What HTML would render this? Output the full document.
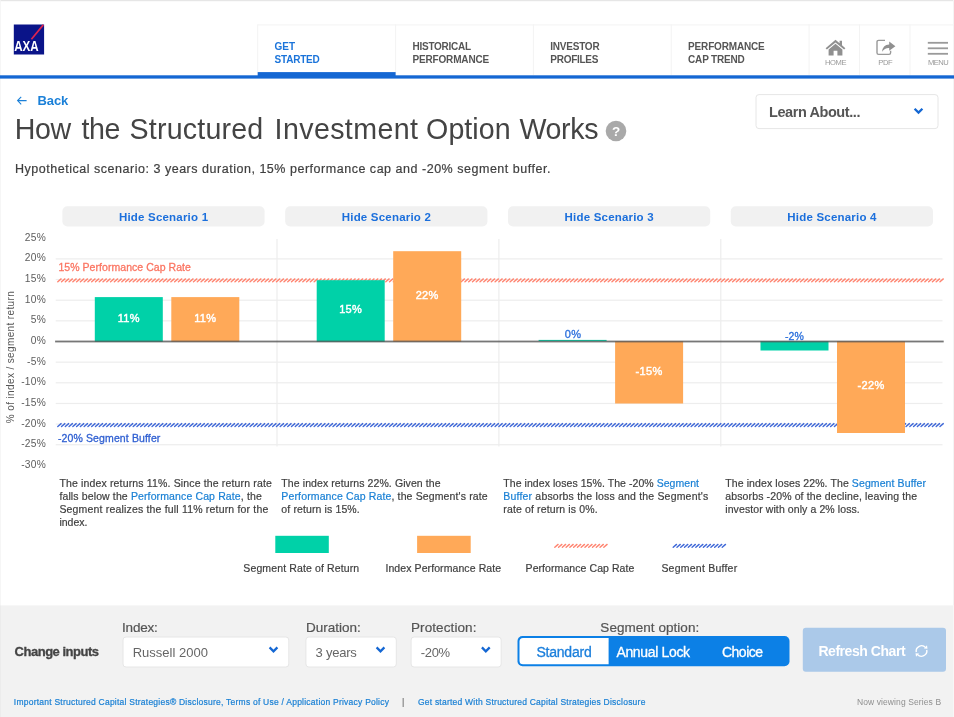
<!DOCTYPE html>
<html lang="en"><head><meta charset="utf-8"><title>How the Structured Investment Option Works</title>
<style>
html,body{margin:0;padding:0}
body{width:954px;height:717px;position:relative;overflow:hidden;background:#fff;font-family:"Liberation Sans", sans-serif;color:#444}
.t{position:absolute;display:block;white-space:nowrap;margin:0;padding:0;border:0;background:none;font-family:inherit;font-weight:400;text-decoration:none;text-align:left;cursor:default}
a.t,button.t{cursor:pointer}
h1{margin:0;font-size:inherit;font-weight:400}
.t a{color:#1a80d5;text-decoration:none}
svg{position:absolute;overflow:visible}

</style></head>
<body>
<svg width="954" height="717" viewBox="0 0 954 717" style="left:0;top:0">
<rect x="0" y="0" width="954" height="1.2" fill="#e6e6e6"/>
<rect x="953" y="0" width="1" height="605.4" fill="#f4f4f4"/>
<rect x="0" y="0" width="0.8" height="605.4" fill="#f4f4f4"/>
<rect x="13.8" y="24.5" width="30.3" height="30" fill="#0a1489"/>
<line x1="31.4" y1="39.2" x2="43.3" y2="24.9" stroke="#dc2450" stroke-width="1.7"/>
<text x="14.2" y="51" font-family="Liberation Sans, sans-serif" font-weight="700" font-size="14.5" textLength="24.4" lengthAdjust="spacingAndGlyphs" fill="#fff">AXA</text>
<rect x="257.7" y="24.4" width="696.3" height="1" fill="#f3f3f3"/>
<rect x="257.2" y="24.4" width="1" height="50.6" fill="#f3f3f3"/>
<rect x="395.1" y="24.4" width="1" height="50.6" fill="#f3f3f3"/>
<rect x="532.9" y="24.4" width="1" height="50.6" fill="#f3f3f3"/>
<rect x="670.7" y="24.4" width="1" height="50.6" fill="#f3f3f3"/>
<rect x="808.6" y="24.4" width="1" height="50.6" fill="#f3f3f3"/>
<rect x="859.0" y="24.4" width="1" height="50.6" fill="#f3f3f3"/>
<rect x="909.5" y="24.4" width="1" height="50.6" fill="#f3f3f3"/>
<rect x="257.7" y="72.1" width="137.9" height="4" fill="#1467d3"/>
<rect x="0" y="75.3" width="954" height="3.3" fill="#1467d3"/>
<g transform="translate(825,39.2)" fill="#909090"><path d="M10.5 0.6 L0.6 9 L1.9 10.4 L10.5 3.2 L19.1 10.4 L20.4 9 L17 6.1 V1.6 H14.6 V4.1 Z"/><path d="M10.5 4.6 L3.6 10.4 V16.4 H8.6 V11.6 H12.4 V16.4 H17.4 V10.4 Z"/></g>
<g transform="translate(876,39.2)"><path d="M9 1.2 H2.6 Q1 1.2 1 2.8 V13.6 Q1 15.2 2.6 15.2 H13 Q14.6 15.2 14.6 13.6 V11.5" fill="none" stroke="#999" stroke-width="1.4"/><path d="M13.2 2.4 L19.4 7 L13.2 11.6 V8.8 Q8.6 8.6 6 12.6 Q6.6 5.6 13.2 5.2 Z" fill="#909090"/></g>
<rect x="927.8" y="41.9" width="20.2" height="1.8" fill="#9a9a9a"/>
<rect x="927.8" y="47.4" width="20.2" height="1.8" fill="#9a9a9a"/>
<rect x="927.8" y="52.9" width="20.2" height="1.8" fill="#9a9a9a"/>
<path d="M21.2 96.9 L17.6 100.6 L21.2 104.3 M17.6 100.6 H26.6" fill="none" stroke="#1b80d8" stroke-width="1.1"/>
<circle cx="616" cy="131" r="10.3" fill="#a9a9a9"/><text x="616" y="135.9" text-anchor="middle" font-family="Liberation Sans, sans-serif" font-weight="700" font-size="13.5" fill="#fff">?</text>
<rect x="756" y="94.6" width="182" height="34" fill="#fff" rx="3" stroke="#e6e6e6" stroke-width="1"/>
<path d="M914.6 108.7 l3.9 3.9 l3.9 -3.9" fill="none" stroke="#1467d3" stroke-width="2.3"/>
<rect x="62.4" y="206.3" width="202.2" height="20.2" fill="#f1f1f1" rx="5"/>
<rect x="285.2" y="206.3" width="202.2" height="20.2" fill="#f1f1f1" rx="5"/>
<rect x="508.0" y="206.3" width="202.2" height="20.2" fill="#f1f1f1" rx="5"/>
<rect x="730.8" y="206.3" width="202.2" height="20.2" fill="#f1f1f1" rx="5"/>
<rect x="55.7" y="258.3" width="886.8" height="1.2" fill="#ededed"/>
<rect x="55.7" y="278.95" width="886.8" height="1.2" fill="#ededed"/>
<rect x="55.7" y="299.6" width="886.8" height="1.2" fill="#ededed"/>
<rect x="55.7" y="320.25" width="886.8" height="1.2" fill="#ededed"/>
<rect x="55.7" y="361.55" width="886.8" height="1.2" fill="#ededed"/>
<rect x="55.7" y="382.2" width="886.8" height="1.2" fill="#ededed"/>
<rect x="55.7" y="402.85" width="886.8" height="1.2" fill="#ededed"/>
<rect x="55.7" y="423.5" width="886.8" height="1.2" fill="#ededed"/>
<rect x="55.7" y="444.15" width="886.8" height="1.2" fill="#ededed"/>
<rect x="276.4" y="239" width="1.2" height="207.5" fill="#ededed"/>
<rect x="498.3" y="239" width="1.2" height="207.5" fill="#ededed"/>
<rect x="720.2" y="239" width="1.2" height="207.5" fill="#ededed"/>
<path d="M57.8 281.8l3.3 -2.9M61.57 281.8l3.3 -2.9M65.34 281.8l3.3 -2.9M69.11 281.8l3.3 -2.9M72.88 281.8l3.3 -2.9M76.65 281.8l3.3 -2.9M80.42 281.8l3.3 -2.9M84.19 281.8l3.3 -2.9M87.96 281.8l3.3 -2.9M91.73 281.8l3.3 -2.9M95.5 281.8l3.3 -2.9M99.27 281.8l3.3 -2.9M103.04 281.8l3.3 -2.9M106.81 281.8l3.3 -2.9M110.58 281.8l3.3 -2.9M114.35 281.8l3.3 -2.9M118.12 281.8l3.3 -2.9M121.89 281.8l3.3 -2.9M125.66 281.8l3.3 -2.9M129.43 281.8l3.3 -2.9M133.2 281.8l3.3 -2.9M136.97 281.8l3.3 -2.9M140.74 281.8l3.3 -2.9M144.51 281.8l3.3 -2.9M148.28 281.8l3.3 -2.9M152.05 281.8l3.3 -2.9M155.82 281.8l3.3 -2.9M159.59 281.8l3.3 -2.9M163.36 281.8l3.3 -2.9M167.13 281.8l3.3 -2.9M170.9 281.8l3.3 -2.9M174.67 281.8l3.3 -2.9M178.44 281.8l3.3 -2.9M182.21 281.8l3.3 -2.9M185.98 281.8l3.3 -2.9M189.75 281.8l3.3 -2.9M193.52 281.8l3.3 -2.9M197.29 281.8l3.3 -2.9M201.06 281.8l3.3 -2.9M204.83 281.8l3.3 -2.9M208.6 281.8l3.3 -2.9M212.37 281.8l3.3 -2.9M216.14 281.8l3.3 -2.9M219.91 281.8l3.3 -2.9M223.68 281.8l3.3 -2.9M227.45 281.8l3.3 -2.9M231.22 281.8l3.3 -2.9M234.99 281.8l3.3 -2.9M238.76 281.8l3.3 -2.9M242.53 281.8l3.3 -2.9M246.3 281.8l3.3 -2.9M250.07 281.8l3.3 -2.9M253.84 281.8l3.3 -2.9M257.61 281.8l3.3 -2.9M261.38 281.8l3.3 -2.9M265.15 281.8l3.3 -2.9M268.92 281.8l3.3 -2.9M272.69 281.8l3.3 -2.9M276.46 281.8l3.3 -2.9M280.23 281.8l3.3 -2.9M284.0 281.8l3.3 -2.9M287.77 281.8l3.3 -2.9M291.54 281.8l3.3 -2.9M295.31 281.8l3.3 -2.9M299.08 281.8l3.3 -2.9M302.85 281.8l3.3 -2.9M306.62 281.8l3.3 -2.9M310.39 281.8l3.3 -2.9M314.16 281.8l3.3 -2.9M317.93 281.8l3.3 -2.9M321.7 281.8l3.3 -2.9M325.47 281.8l3.3 -2.9M329.24 281.8l3.3 -2.9M333.01 281.8l3.3 -2.9M336.78 281.8l3.3 -2.9M340.55 281.8l3.3 -2.9M344.32 281.8l3.3 -2.9M348.09 281.8l3.3 -2.9M351.86 281.8l3.3 -2.9M355.63 281.8l3.3 -2.9M359.4 281.8l3.3 -2.9M363.17 281.8l3.3 -2.9M366.94 281.8l3.3 -2.9M370.71 281.8l3.3 -2.9M374.48 281.8l3.3 -2.9M378.25 281.8l3.3 -2.9M382.02 281.8l3.3 -2.9M385.79 281.8l3.3 -2.9M389.56 281.8l3.3 -2.9M393.33 281.8l3.3 -2.9M397.1 281.8l3.3 -2.9M400.87 281.8l3.3 -2.9M404.64 281.8l3.3 -2.9M408.41 281.8l3.3 -2.9M412.18 281.8l3.3 -2.9M415.95 281.8l3.3 -2.9M419.72 281.8l3.3 -2.9M423.49 281.8l3.3 -2.9M427.26 281.8l3.3 -2.9M431.03 281.8l3.3 -2.9M434.8 281.8l3.3 -2.9M438.57 281.8l3.3 -2.9M442.34 281.8l3.3 -2.9M446.11 281.8l3.3 -2.9M449.88 281.8l3.3 -2.9M453.65 281.8l3.3 -2.9M457.42 281.8l3.3 -2.9M461.19 281.8l3.3 -2.9M464.96 281.8l3.3 -2.9M468.73 281.8l3.3 -2.9M472.5 281.8l3.3 -2.9M476.27 281.8l3.3 -2.9M480.04 281.8l3.3 -2.9M483.81 281.8l3.3 -2.9M487.58 281.8l3.3 -2.9M491.35 281.8l3.3 -2.9M495.12 281.8l3.3 -2.9M498.89 281.8l3.3 -2.9M502.66 281.8l3.3 -2.9M506.43 281.8l3.3 -2.9M510.2 281.8l3.3 -2.9M513.97 281.8l3.3 -2.9M517.74 281.8l3.3 -2.9M521.51 281.8l3.3 -2.9M525.28 281.8l3.3 -2.9M529.05 281.8l3.3 -2.9M532.82 281.8l3.3 -2.9M536.59 281.8l3.3 -2.9M540.36 281.8l3.3 -2.9M544.13 281.8l3.3 -2.9M547.9 281.8l3.3 -2.9M551.67 281.8l3.3 -2.9M555.44 281.8l3.3 -2.9M559.21 281.8l3.3 -2.9M562.98 281.8l3.3 -2.9M566.75 281.8l3.3 -2.9M570.52 281.8l3.3 -2.9M574.29 281.8l3.3 -2.9M578.06 281.8l3.3 -2.9M581.83 281.8l3.3 -2.9M585.6 281.8l3.3 -2.9M589.37 281.8l3.3 -2.9M593.14 281.8l3.3 -2.9M596.91 281.8l3.3 -2.9M600.68 281.8l3.3 -2.9M604.45 281.8l3.3 -2.9M608.22 281.8l3.3 -2.9M611.99 281.8l3.3 -2.9M615.76 281.8l3.3 -2.9M619.53 281.8l3.3 -2.9M623.3 281.8l3.3 -2.9M627.07 281.8l3.3 -2.9M630.84 281.8l3.3 -2.9M634.61 281.8l3.3 -2.9M638.38 281.8l3.3 -2.9M642.15 281.8l3.3 -2.9M645.92 281.8l3.3 -2.9M649.69 281.8l3.3 -2.9M653.46 281.8l3.3 -2.9M657.23 281.8l3.3 -2.9M661.0 281.8l3.3 -2.9M664.77 281.8l3.3 -2.9M668.54 281.8l3.3 -2.9M672.31 281.8l3.3 -2.9M676.08 281.8l3.3 -2.9M679.85 281.8l3.3 -2.9M683.62 281.8l3.3 -2.9M687.39 281.8l3.3 -2.9M691.16 281.8l3.3 -2.9M694.93 281.8l3.3 -2.9M698.7 281.8l3.3 -2.9M702.47 281.8l3.3 -2.9M706.24 281.8l3.3 -2.9M710.01 281.8l3.3 -2.9M713.78 281.8l3.3 -2.9M717.55 281.8l3.3 -2.9M721.32 281.8l3.3 -2.9M725.09 281.8l3.3 -2.9M728.86 281.8l3.3 -2.9M732.63 281.8l3.3 -2.9M736.4 281.8l3.3 -2.9M740.17 281.8l3.3 -2.9M743.94 281.8l3.3 -2.9M747.71 281.8l3.3 -2.9M751.48 281.8l3.3 -2.9M755.25 281.8l3.3 -2.9M759.02 281.8l3.3 -2.9M762.79 281.8l3.3 -2.9M766.56 281.8l3.3 -2.9M770.33 281.8l3.3 -2.9M774.1 281.8l3.3 -2.9M777.87 281.8l3.3 -2.9M781.64 281.8l3.3 -2.9M785.41 281.8l3.3 -2.9M789.18 281.8l3.3 -2.9M792.95 281.8l3.3 -2.9M796.72 281.8l3.3 -2.9M800.49 281.8l3.3 -2.9M804.26 281.8l3.3 -2.9M808.03 281.8l3.3 -2.9M811.8 281.8l3.3 -2.9M815.57 281.8l3.3 -2.9M819.34 281.8l3.3 -2.9M823.11 281.8l3.3 -2.9M826.88 281.8l3.3 -2.9M830.65 281.8l3.3 -2.9M834.42 281.8l3.3 -2.9M838.19 281.8l3.3 -2.9M841.96 281.8l3.3 -2.9M845.73 281.8l3.3 -2.9M849.5 281.8l3.3 -2.9M853.27 281.8l3.3 -2.9M857.04 281.8l3.3 -2.9M860.81 281.8l3.3 -2.9M864.58 281.8l3.3 -2.9M868.35 281.8l3.3 -2.9M872.12 281.8l3.3 -2.9M875.89 281.8l3.3 -2.9M879.66 281.8l3.3 -2.9M883.43 281.8l3.3 -2.9M887.2 281.8l3.3 -2.9M890.97 281.8l3.3 -2.9M894.74 281.8l3.3 -2.9M898.51 281.8l3.3 -2.9M902.28 281.8l3.3 -2.9M906.05 281.8l3.3 -2.9M909.82 281.8l3.3 -2.9M913.59 281.8l3.3 -2.9M917.36 281.8l3.3 -2.9M921.13 281.8l3.3 -2.9M924.9 281.8l3.3 -2.9M928.67 281.8l3.3 -2.9M932.44 281.8l3.3 -2.9M936.21 281.8l3.3 -2.9M939.98 281.8l3.3 -2.9" fill="none" stroke="#ff8571" stroke-width="1.4" stroke-linecap="round"/>
<path d="M57.8 426.5l3.3 -2.9M61.57 426.5l3.3 -2.9M65.34 426.5l3.3 -2.9M69.11 426.5l3.3 -2.9M72.88 426.5l3.3 -2.9M76.65 426.5l3.3 -2.9M80.42 426.5l3.3 -2.9M84.19 426.5l3.3 -2.9M87.96 426.5l3.3 -2.9M91.73 426.5l3.3 -2.9M95.5 426.5l3.3 -2.9M99.27 426.5l3.3 -2.9M103.04 426.5l3.3 -2.9M106.81 426.5l3.3 -2.9M110.58 426.5l3.3 -2.9M114.35 426.5l3.3 -2.9M118.12 426.5l3.3 -2.9M121.89 426.5l3.3 -2.9M125.66 426.5l3.3 -2.9M129.43 426.5l3.3 -2.9M133.2 426.5l3.3 -2.9M136.97 426.5l3.3 -2.9M140.74 426.5l3.3 -2.9M144.51 426.5l3.3 -2.9M148.28 426.5l3.3 -2.9M152.05 426.5l3.3 -2.9M155.82 426.5l3.3 -2.9M159.59 426.5l3.3 -2.9M163.36 426.5l3.3 -2.9M167.13 426.5l3.3 -2.9M170.9 426.5l3.3 -2.9M174.67 426.5l3.3 -2.9M178.44 426.5l3.3 -2.9M182.21 426.5l3.3 -2.9M185.98 426.5l3.3 -2.9M189.75 426.5l3.3 -2.9M193.52 426.5l3.3 -2.9M197.29 426.5l3.3 -2.9M201.06 426.5l3.3 -2.9M204.83 426.5l3.3 -2.9M208.6 426.5l3.3 -2.9M212.37 426.5l3.3 -2.9M216.14 426.5l3.3 -2.9M219.91 426.5l3.3 -2.9M223.68 426.5l3.3 -2.9M227.45 426.5l3.3 -2.9M231.22 426.5l3.3 -2.9M234.99 426.5l3.3 -2.9M238.76 426.5l3.3 -2.9M242.53 426.5l3.3 -2.9M246.3 426.5l3.3 -2.9M250.07 426.5l3.3 -2.9M253.84 426.5l3.3 -2.9M257.61 426.5l3.3 -2.9M261.38 426.5l3.3 -2.9M265.15 426.5l3.3 -2.9M268.92 426.5l3.3 -2.9M272.69 426.5l3.3 -2.9M276.46 426.5l3.3 -2.9M280.23 426.5l3.3 -2.9M284.0 426.5l3.3 -2.9M287.77 426.5l3.3 -2.9M291.54 426.5l3.3 -2.9M295.31 426.5l3.3 -2.9M299.08 426.5l3.3 -2.9M302.85 426.5l3.3 -2.9M306.62 426.5l3.3 -2.9M310.39 426.5l3.3 -2.9M314.16 426.5l3.3 -2.9M317.93 426.5l3.3 -2.9M321.7 426.5l3.3 -2.9M325.47 426.5l3.3 -2.9M329.24 426.5l3.3 -2.9M333.01 426.5l3.3 -2.9M336.78 426.5l3.3 -2.9M340.55 426.5l3.3 -2.9M344.32 426.5l3.3 -2.9M348.09 426.5l3.3 -2.9M351.86 426.5l3.3 -2.9M355.63 426.5l3.3 -2.9M359.4 426.5l3.3 -2.9M363.17 426.5l3.3 -2.9M366.94 426.5l3.3 -2.9M370.71 426.5l3.3 -2.9M374.48 426.5l3.3 -2.9M378.25 426.5l3.3 -2.9M382.02 426.5l3.3 -2.9M385.79 426.5l3.3 -2.9M389.56 426.5l3.3 -2.9M393.33 426.5l3.3 -2.9M397.1 426.5l3.3 -2.9M400.87 426.5l3.3 -2.9M404.64 426.5l3.3 -2.9M408.41 426.5l3.3 -2.9M412.18 426.5l3.3 -2.9M415.95 426.5l3.3 -2.9M419.72 426.5l3.3 -2.9M423.49 426.5l3.3 -2.9M427.26 426.5l3.3 -2.9M431.03 426.5l3.3 -2.9M434.8 426.5l3.3 -2.9M438.57 426.5l3.3 -2.9M442.34 426.5l3.3 -2.9M446.11 426.5l3.3 -2.9M449.88 426.5l3.3 -2.9M453.65 426.5l3.3 -2.9M457.42 426.5l3.3 -2.9M461.19 426.5l3.3 -2.9M464.96 426.5l3.3 -2.9M468.73 426.5l3.3 -2.9M472.5 426.5l3.3 -2.9M476.27 426.5l3.3 -2.9M480.04 426.5l3.3 -2.9M483.81 426.5l3.3 -2.9M487.58 426.5l3.3 -2.9M491.35 426.5l3.3 -2.9M495.12 426.5l3.3 -2.9M498.89 426.5l3.3 -2.9M502.66 426.5l3.3 -2.9M506.43 426.5l3.3 -2.9M510.2 426.5l3.3 -2.9M513.97 426.5l3.3 -2.9M517.74 426.5l3.3 -2.9M521.51 426.5l3.3 -2.9M525.28 426.5l3.3 -2.9M529.05 426.5l3.3 -2.9M532.82 426.5l3.3 -2.9M536.59 426.5l3.3 -2.9M540.36 426.5l3.3 -2.9M544.13 426.5l3.3 -2.9M547.9 426.5l3.3 -2.9M551.67 426.5l3.3 -2.9M555.44 426.5l3.3 -2.9M559.21 426.5l3.3 -2.9M562.98 426.5l3.3 -2.9M566.75 426.5l3.3 -2.9M570.52 426.5l3.3 -2.9M574.29 426.5l3.3 -2.9M578.06 426.5l3.3 -2.9M581.83 426.5l3.3 -2.9M585.6 426.5l3.3 -2.9M589.37 426.5l3.3 -2.9M593.14 426.5l3.3 -2.9M596.91 426.5l3.3 -2.9M600.68 426.5l3.3 -2.9M604.45 426.5l3.3 -2.9M608.22 426.5l3.3 -2.9M611.99 426.5l3.3 -2.9M615.76 426.5l3.3 -2.9M619.53 426.5l3.3 -2.9M623.3 426.5l3.3 -2.9M627.07 426.5l3.3 -2.9M630.84 426.5l3.3 -2.9M634.61 426.5l3.3 -2.9M638.38 426.5l3.3 -2.9M642.15 426.5l3.3 -2.9M645.92 426.5l3.3 -2.9M649.69 426.5l3.3 -2.9M653.46 426.5l3.3 -2.9M657.23 426.5l3.3 -2.9M661.0 426.5l3.3 -2.9M664.77 426.5l3.3 -2.9M668.54 426.5l3.3 -2.9M672.31 426.5l3.3 -2.9M676.08 426.5l3.3 -2.9M679.85 426.5l3.3 -2.9M683.62 426.5l3.3 -2.9M687.39 426.5l3.3 -2.9M691.16 426.5l3.3 -2.9M694.93 426.5l3.3 -2.9M698.7 426.5l3.3 -2.9M702.47 426.5l3.3 -2.9M706.24 426.5l3.3 -2.9M710.01 426.5l3.3 -2.9M713.78 426.5l3.3 -2.9M717.55 426.5l3.3 -2.9M721.32 426.5l3.3 -2.9M725.09 426.5l3.3 -2.9M728.86 426.5l3.3 -2.9M732.63 426.5l3.3 -2.9M736.4 426.5l3.3 -2.9M740.17 426.5l3.3 -2.9M743.94 426.5l3.3 -2.9M747.71 426.5l3.3 -2.9M751.48 426.5l3.3 -2.9M755.25 426.5l3.3 -2.9M759.02 426.5l3.3 -2.9M762.79 426.5l3.3 -2.9M766.56 426.5l3.3 -2.9M770.33 426.5l3.3 -2.9M774.1 426.5l3.3 -2.9M777.87 426.5l3.3 -2.9M781.64 426.5l3.3 -2.9M785.41 426.5l3.3 -2.9M789.18 426.5l3.3 -2.9M792.95 426.5l3.3 -2.9M796.72 426.5l3.3 -2.9M800.49 426.5l3.3 -2.9M804.26 426.5l3.3 -2.9M808.03 426.5l3.3 -2.9M811.8 426.5l3.3 -2.9M815.57 426.5l3.3 -2.9M819.34 426.5l3.3 -2.9M823.11 426.5l3.3 -2.9M826.88 426.5l3.3 -2.9M830.65 426.5l3.3 -2.9M834.42 426.5l3.3 -2.9M838.19 426.5l3.3 -2.9M841.96 426.5l3.3 -2.9M845.73 426.5l3.3 -2.9M849.5 426.5l3.3 -2.9M853.27 426.5l3.3 -2.9M857.04 426.5l3.3 -2.9M860.81 426.5l3.3 -2.9M864.58 426.5l3.3 -2.9M868.35 426.5l3.3 -2.9M872.12 426.5l3.3 -2.9M875.89 426.5l3.3 -2.9M879.66 426.5l3.3 -2.9M883.43 426.5l3.3 -2.9M887.2 426.5l3.3 -2.9M890.97 426.5l3.3 -2.9M894.74 426.5l3.3 -2.9M898.51 426.5l3.3 -2.9M902.28 426.5l3.3 -2.9M906.05 426.5l3.3 -2.9M909.82 426.5l3.3 -2.9M913.59 426.5l3.3 -2.9M917.36 426.5l3.3 -2.9M921.13 426.5l3.3 -2.9M924.9 426.5l3.3 -2.9M928.67 426.5l3.3 -2.9M932.44 426.5l3.3 -2.9M936.21 426.5l3.3 -2.9M939.98 426.5l3.3 -2.9" fill="none" stroke="#4069d8" stroke-width="1.4" stroke-linecap="round"/>
<rect x="94.8" y="297.1" width="68" height="44.8" fill="#00d1a8"/>
<rect x="171.3" y="297.1" width="68" height="44.8" fill="#ffa958"/>
<rect x="316.7" y="280.2" width="68" height="61.7" fill="#00d1a8"/>
<rect x="393.2" y="251.2" width="68" height="90.7" fill="#ffa958"/>
<rect x="538.6" y="339.9" width="68" height="1.2" fill="#00d1a8"/>
<rect x="615.1" y="341.1" width="68" height="62.4" fill="#ffa958"/>
<rect x="760.5" y="341.1" width="68" height="9.4" fill="#00d1a8"/>
<rect x="837.0" y="341.1" width="68" height="91.9" fill="#ffa958"/>
<rect x="55.1" y="340.6" width="888.6" height="1.8" fill="#555" opacity="0.8"/>
<rect x="275.3" y="535.8" width="53.5" height="17.2" fill="#00d1a8"/>
<rect x="417.1" y="535.8" width="53.6" height="17.2" fill="#ffa958"/>
<path d="M554.8 547.3l3.3 -2.9M558.57 547.3l3.3 -2.9M562.34 547.3l3.3 -2.9M566.11 547.3l3.3 -2.9M569.88 547.3l3.3 -2.9M573.65 547.3l3.3 -2.9M577.42 547.3l3.3 -2.9M581.19 547.3l3.3 -2.9M584.96 547.3l3.3 -2.9M588.73 547.3l3.3 -2.9M592.5 547.3l3.3 -2.9M596.27 547.3l3.3 -2.9M600.04 547.3l3.3 -2.9M603.81 547.3l3.3 -2.9" fill="none" stroke="#ff8571" stroke-width="1.4" stroke-linecap="round"/>
<path d="M673.2 547.3l3.3 -2.9M676.97 547.3l3.3 -2.9M680.74 547.3l3.3 -2.9M684.51 547.3l3.3 -2.9M688.28 547.3l3.3 -2.9M692.05 547.3l3.3 -2.9M695.82 547.3l3.3 -2.9M699.59 547.3l3.3 -2.9M703.36 547.3l3.3 -2.9M707.13 547.3l3.3 -2.9M710.9 547.3l3.3 -2.9M714.67 547.3l3.3 -2.9M718.44 547.3l3.3 -2.9M722.21 547.3l3.3 -2.9" fill="none" stroke="#4069d8" stroke-width="1.4" stroke-linecap="round"/>
<rect x="0" y="605.4" width="954" height="112" fill="#f2f2f2"/>
<rect x="0" y="605.4" width="1" height="112" fill="#ececec"/>
<rect x="953" y="605.4" width="1" height="112" fill="#f7f7f7"/>
<rect x="123.0" y="637" width="165.8" height="30" fill="#fff" rx="3" stroke="#e6e6e6" stroke-width="1"/>
<path d="M269.6 647.4 l3.9 3.9 l3.9 -3.9" fill="none" stroke="#1467d3" stroke-width="2.3"/>
<rect x="305.9" y="637" width="90.4" height="30" fill="#fff" rx="3" stroke="#e6e6e6" stroke-width="1"/>
<path d="M376.6 647.4 l3.9 3.9 l3.9 -3.9" fill="none" stroke="#1467d3" stroke-width="2.3"/>
<rect x="411.1" y="637" width="90.1" height="30" fill="#fff" rx="3" stroke="#e6e6e6" stroke-width="1"/>
<path d="M481.9 647.4 l3.9 3.9 l3.9 -3.9" fill="none" stroke="#1467d3" stroke-width="2.3"/>
<rect x="517.5" y="636" width="272" height="30.3" fill="#0c80e6" rx="5"/>
<path d="M523 638 H608.6 V664.3 H523 Q519.5 664.3 519.5 660.8 V641.5 Q519.5 638 523 638 Z" fill="#fff"/>
<rect x="802.8" y="627.7" width="143.2" height="44" fill="#abc9e9" rx="3"/>
<g transform="translate(913.9,643.4) scale(1.17)"><path d="M2 7.4 A4.6 4.6 0 0 1 10 3.6 M11 5.6 A4.6 4.6 0 0 1 3 9.4" fill="none" stroke="#fff" stroke-width="1.2"/><path d="M8.6 4.4 L11.6 4.6 L11.2 1.6 Z M4.4 8.6 L1.4 8.4 L1.8 11.4 Z" fill="#fff"/></g>
</svg>
<header>
<nav>
<a class="t" style="left:274.60px;top:41px;font-size:10px;line-height:11px;color:#1b74da;font-weight:700;letter-spacing:-0.021px;">GET</a>
<a class="t" style="left:274.60px;top:54px;font-size:10px;line-height:11px;color:#1b74da;font-weight:700;letter-spacing:-0.212px;">STARTED</a>
<a class="t" style="left:412.50px;top:41px;font-size:10px;line-height:11px;color:#555;font-weight:700;letter-spacing:-0.254px;">HISTORICAL</a>
<a class="t" style="left:412.50px;top:54px;font-size:10px;line-height:11px;color:#555;font-weight:700;letter-spacing:-0.168px;">PERFORMANCE</a>
<a class="t" style="left:550.30px;top:41px;font-size:10px;line-height:11px;color:#555;font-weight:700;letter-spacing:-0.23px;">INVESTOR</a>
<a class="t" style="left:550.30px;top:54px;font-size:10px;line-height:11px;color:#555;font-weight:700;letter-spacing:-0.277px;">PROFILES</a>
<a class="t" style="left:688.10px;top:41px;font-size:10px;line-height:11px;color:#555;font-weight:700;letter-spacing:-0.168px;">PERFORMANCE</a>
<a class="t" style="left:688.10px;top:54px;font-size:10px;line-height:11px;color:#555;font-weight:700;letter-spacing:-0.195px;">CAP TREND</a>
<div class="t" style="left:825.00px;top:58px;font-size:7.6px;line-height:9px;color:#999;letter-spacing:-0.395px;">HOME</div>
<div class="t" style="left:878.30px;top:58px;font-size:7.6px;line-height:9px;color:#999;letter-spacing:-0.462px;">PDF</div>
<div class="t" style="left:927.90px;top:58px;font-size:7.6px;line-height:9px;color:#999;letter-spacing:-0.54px;">MENU</div>
</nav></header><main>
<a class="t" style="left:37.60px;top:93px;font-size:13px;line-height:15px;color:#1b80d8;font-weight:700;letter-spacing:-0.145px;">Back</a>
<h1>
<span class="t" style="left:14.80px;top:113px;font-size:28.6px;line-height:32px;color:#444;letter-spacing:-0.401px;">How</span>
<span class="t" style="left:81.60px;top:113px;font-size:28.6px;line-height:32px;color:#444;letter-spacing:-0.417px;">the</span>
<span class="t" style="left:129.60px;top:113px;font-size:28.6px;line-height:32px;color:#444;letter-spacing:0.188px;">Structured</span>
<span class="t" style="left:274.60px;top:113px;font-size:28.6px;line-height:32px;color:#444;letter-spacing:0.384px;">Investment</span>
<span class="t" style="left:426.10px;top:113px;font-size:28.6px;line-height:32px;color:#444;letter-spacing:0.042px;">Option</span>
<span class="t" style="left:519.40px;top:113px;font-size:28.6px;line-height:32px;color:#444;letter-spacing:-0.34px;">Works</span>
</h1>
<div class="t" style="left:15.00px;top:162px;font-size:12.5px;line-height:14px;color:#3f3f3f;letter-spacing:0.521px;-webkit-text-stroke:0.2px;">Hypothetical scenario: 3 years duration, 15% performance cap and -20% segment buffer.</div>
<div class="t" style="left:769.00px;top:104px;font-size:14.5px;line-height:16px;color:#555;font-weight:700;letter-spacing:-0.424px;">Learn About...</div>
<button class="t" style="left:118.95px;top:211px;font-size:11.5px;line-height:12px;color:#1b6fdc;font-weight:700;letter-spacing:0.2px;">Hide Scenario 1</button>
<button class="t" style="left:341.75px;top:211px;font-size:11.5px;line-height:12px;color:#1b6fdc;font-weight:700;letter-spacing:0.2px;">Hide Scenario 2</button>
<button class="t" style="left:564.55px;top:211px;font-size:11.5px;line-height:12px;color:#1b6fdc;font-weight:700;letter-spacing:0.2px;">Hide Scenario 3</button>
<button class="t" style="left:787.35px;top:211px;font-size:11.5px;line-height:12px;color:#1b6fdc;font-weight:700;letter-spacing:0.2px;">Hide Scenario 4</button>
<div class="t" style="left:24.86px;top:232px;font-size:10.2px;line-height:11px;color:#5c5c5c;letter-spacing:0.25px;">25%</div>
<div class="t" style="left:24.86px;top:252px;font-size:10.2px;line-height:11px;color:#5c5c5c;letter-spacing:0.25px;">20%</div>
<div class="t" style="left:24.86px;top:273px;font-size:10.2px;line-height:11px;color:#5c5c5c;letter-spacing:0.25px;">15%</div>
<div class="t" style="left:24.86px;top:294px;font-size:10.2px;line-height:11px;color:#5c5c5c;letter-spacing:0.25px;">10%</div>
<div class="t" style="left:30.77px;top:314px;font-size:10.2px;line-height:11px;color:#5c5c5c;letter-spacing:0.25px;">5%</div>
<div class="t" style="left:30.77px;top:335px;font-size:10.2px;line-height:11px;color:#5c5c5c;letter-spacing:0.25px;">0%</div>
<div class="t" style="left:27.12px;top:356px;font-size:10.2px;line-height:11px;color:#5c5c5c;letter-spacing:0.25px;">-5%</div>
<div class="t" style="left:21.20px;top:376px;font-size:10.2px;line-height:11px;color:#5c5c5c;letter-spacing:0.25px;">-10%</div>
<div class="t" style="left:21.20px;top:397px;font-size:10.2px;line-height:11px;color:#5c5c5c;letter-spacing:0.25px;">-15%</div>
<div class="t" style="left:21.20px;top:418px;font-size:10.2px;line-height:11px;color:#5c5c5c;letter-spacing:0.25px;">-20%</div>
<div class="t" style="left:21.20px;top:438px;font-size:10.2px;line-height:11px;color:#5c5c5c;letter-spacing:0.25px;">-25%</div>
<div class="t" style="left:21.20px;top:459px;font-size:10.2px;line-height:11px;color:#5c5c5c;letter-spacing:0.25px;">-30%</div>
<div class="t" style="left:10.6px;top:357px;width:0;height:0"><div style="position:absolute;left:-100px;top:-7px;width:200px;height:14px;line-height:14px;text-align:center;font-size:10px;color:#555;transform:rotate(-90deg);letter-spacing:0.37px">% of index / segment return</div></div>
<div class="t" style="left:58.40px;top:261px;font-size:10.5px;line-height:12px;color:#fb7562;letter-spacing:0.053px;-webkit-text-stroke:0.3px #fb7562;">15% Performance Cap Rate</div>
<div class="t" style="left:57.90px;top:432px;font-size:10.5px;line-height:12px;color:#3060d2;letter-spacing:0.126px;-webkit-text-stroke:0.3px #3060d2;">-20% Segment Buffer</div>
<div class="t" style="left:117.67px;top:312px;font-size:11px;line-height:12px;color:#fff;letter-spacing:0.35px;-webkit-text-stroke:0.45px #fff;">11%</div>
<div class="t" style="left:194.17px;top:312px;font-size:11px;line-height:12px;color:#fff;letter-spacing:0.35px;-webkit-text-stroke:0.45px #fff;">11%</div>
<div class="t" style="left:339.16px;top:303px;font-size:11px;line-height:12px;color:#fff;letter-spacing:0.35px;-webkit-text-stroke:0.45px #fff;">15%</div>
<div class="t" style="left:415.66px;top:289px;font-size:11px;line-height:12px;color:#fff;letter-spacing:0.35px;-webkit-text-stroke:0.45px #fff;">22%</div>
<div class="t" style="left:564.85px;top:328px;font-size:11px;line-height:12px;color:#2a6fdc;letter-spacing:0.2px;-webkit-text-stroke:0.3px #2a6fdc;">0%</div>
<div class="t" style="left:635.56px;top:365px;font-size:11px;line-height:12px;color:#fff;letter-spacing:0.35px;-webkit-text-stroke:0.45px #fff;">-15%</div>
<div class="t" style="left:785.01px;top:330px;font-size:10.5px;line-height:12px;color:#2a6fdc;letter-spacing:0.1px;-webkit-text-stroke:0.3px #2a6fdc;">-2%</div>
<div class="t" style="left:857.46px;top:379px;font-size:11px;line-height:12px;color:#fff;letter-spacing:0.35px;-webkit-text-stroke:0.45px #fff;">-22%</div>
<p class="t" style="left:59.40px;top:477px;font-size:10.5px;line-height:12px;color:#3f3f3f;letter-spacing:0.154px;-webkit-text-stroke:0.2px;">The index returns 11%. Since the return rate</p>
<p class="t" style="left:59.40px;top:490px;font-size:10.5px;line-height:12px;color:#3f3f3f;letter-spacing:0.127px;-webkit-text-stroke:0.2px;">falls below the <a>Performance Cap Rate</a>, the</p>
<p class="t" style="left:59.40px;top:503px;font-size:10.5px;line-height:12px;color:#3f3f3f;letter-spacing:0.18px;-webkit-text-stroke:0.2px;">Segment realizes the full 11% return for the</p>
<p class="t" style="left:59.40px;top:516px;font-size:10.5px;line-height:12px;color:#3f3f3f;letter-spacing:0.011px;-webkit-text-stroke:0.2px;">index.</p>
<p class="t" style="left:281.35px;top:477px;font-size:10.5px;line-height:12px;color:#3f3f3f;letter-spacing:0.09px;-webkit-text-stroke:0.2px;">The index returns 22%. Given the</p>
<p class="t" style="left:281.35px;top:490px;font-size:10.5px;line-height:12px;color:#3f3f3f;letter-spacing:0.137px;-webkit-text-stroke:0.2px;"><a>Performance Cap Rate</a>, the Segment's rate</p>
<p class="t" style="left:281.35px;top:503px;font-size:10.5px;line-height:12px;color:#3f3f3f;letter-spacing:0.12px;-webkit-text-stroke:0.2px;">of return is 15%.</p>
<p class="t" style="left:503.30px;top:477px;font-size:10.5px;line-height:12px;color:#3f3f3f;letter-spacing:0.06px;-webkit-text-stroke:0.2px;">The index loses 15%. The -20% <a>Segment</a></p>
<p class="t" style="left:503.30px;top:490px;font-size:10.5px;line-height:12px;color:#3f3f3f;letter-spacing:0.189px;-webkit-text-stroke:0.2px;"><a>Buffer</a> absorbs the loss and the Segment's</p>
<p class="t" style="left:503.30px;top:503px;font-size:10.5px;line-height:12px;color:#3f3f3f;letter-spacing:0.132px;-webkit-text-stroke:0.2px;">rate of return is 0%.</p>
<p class="t" style="left:725.25px;top:477px;font-size:10.5px;line-height:12px;color:#3f3f3f;letter-spacing:0.099px;-webkit-text-stroke:0.2px;">The index loses 22%. The <a>Segment Buffer</a></p>
<p class="t" style="left:725.25px;top:490px;font-size:10.5px;line-height:12px;color:#3f3f3f;letter-spacing:0.13px;-webkit-text-stroke:0.2px;">absorbs -20% of the decline, leaving the</p>
<p class="t" style="left:725.25px;top:503px;font-size:10.5px;line-height:12px;color:#3f3f3f;letter-spacing:0.093px;-webkit-text-stroke:0.2px;">investor with only a 2% loss.</p>
<div class="t" style="left:243.30px;top:562px;font-size:10.5px;line-height:12px;color:#3f3f3f;letter-spacing:0.126px;-webkit-text-stroke:0.2px;">Segment Rate of Return</div>
<div class="t" style="left:385.40px;top:562px;font-size:10.5px;line-height:12px;color:#3f3f3f;letter-spacing:0.09px;-webkit-text-stroke:0.2px;">Index Performance Rate</div>
<div class="t" style="left:525.55px;top:562px;font-size:10.5px;line-height:12px;color:#3f3f3f;letter-spacing:0.075px;-webkit-text-stroke:0.2px;">Performance Cap Rate</div>
<div class="t" style="left:661.40px;top:562px;font-size:10.5px;line-height:12px;color:#3f3f3f;letter-spacing:0.23px;-webkit-text-stroke:0.2px;">Segment Buffer</div>
</main><footer>
<div class="t" style="left:14.60px;top:644px;font-size:13px;line-height:15px;color:#444;font-weight:700;letter-spacing:-0.483px;-webkit-text-stroke:0.3px;">Change inputs</div>
<label class="t" style="left:122.00px;top:620px;font-size:13.5px;line-height:15px;color:#555;letter-spacing:-0.18px;-webkit-text-stroke:0.2px;">Index:</label>
<label class="t" style="left:306.00px;top:620px;font-size:13.5px;line-height:15px;color:#555;letter-spacing:0.002px;-webkit-text-stroke:0.2px;">Duration:</label>
<label class="t" style="left:411.00px;top:620px;font-size:13.5px;line-height:15px;color:#555;letter-spacing:0.087px;-webkit-text-stroke:0.2px;">Protection:</label>
<label class="t" style="left:600.35px;top:620px;font-size:13.5px;line-height:15px;color:#555;letter-spacing:0.038px;-webkit-text-stroke:0.2px;">Segment option:</label>
<div class="t" style="left:132.70px;top:645px;font-size:13px;line-height:15px;color:#666;letter-spacing:0.004px;">Russell 2000</div>
<div class="t" style="left:315.60px;top:645px;font-size:13px;line-height:15px;color:#666;letter-spacing:-0.234px;">3 years</div>
<div class="t" style="left:420.80px;top:645px;font-size:13px;line-height:15px;color:#666;letter-spacing:-0.365px;">-20%</div>
<button class="t" style="left:536.40px;top:644px;font-size:14px;line-height:16px;color:#1b7fdc;letter-spacing:-0.216px;-webkit-text-stroke:0.3px;">Standard</button>
<button class="t" style="left:616.40px;top:644px;font-size:14px;line-height:16px;color:#fff;letter-spacing:-0.333px;-webkit-text-stroke:0.3px;">Annual Lock</button>
<button class="t" style="left:722.00px;top:644px;font-size:14px;line-height:16px;color:#fff;letter-spacing:-0.516px;-webkit-text-stroke:0.3px;">Choice</button>
<button class="t" style="left:818.40px;top:643px;font-size:14px;line-height:16px;color:#fff;font-weight:700;letter-spacing:-0.446px;">Refresh Chart</button>
<a class="t" style="left:13.80px;top:697px;font-size:8.5px;line-height:10px;color:#1a80d5;letter-spacing:0.235px;-webkit-text-stroke:0.2px;">Important Structured Capital Strategies® Disclosure, Terms of Use / Application Privacy Policy</a>
<div class="t" style="left:401.89px;top:697px;font-size:8.5px;line-height:10px;color:#444;">|</div>
<a class="t" style="left:417.90px;top:697px;font-size:8.5px;line-height:10px;color:#1a80d5;letter-spacing:0.232px;-webkit-text-stroke:0.2px;">Get started With Structured Capital Strategies Disclosure</a>
<div class="t" style="left:856.90px;top:697px;font-size:8.5px;line-height:10px;color:#8f8f8f;letter-spacing:0.105px;">Now viewing Series B</div>
</footer>
</body></html>
